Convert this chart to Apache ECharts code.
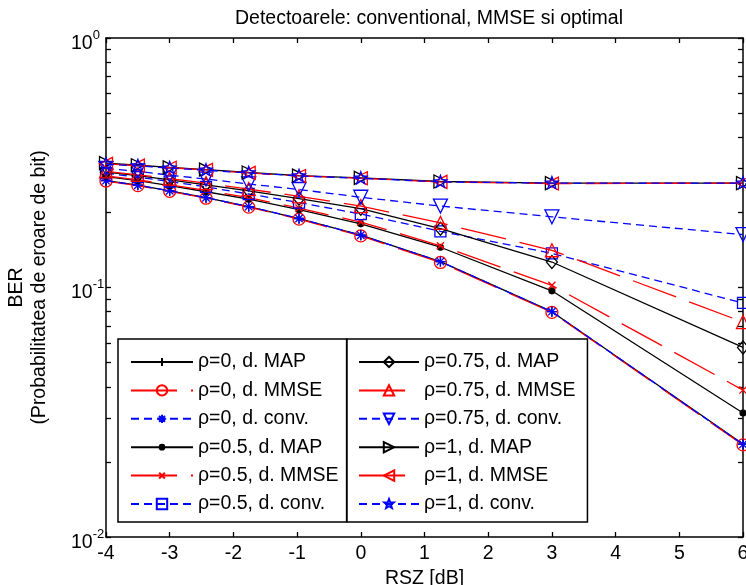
<!DOCTYPE html>
<html><head><meta charset="utf-8">
<script src="https://cdn.jsdelivr.net/npm/echarts@6/dist/echarts.min.js"></script>
<style>html,body{margin:0;padding:0;background:#fff}#c{width:746px;height:585px}</style>
</head><body><div id="c"></div>
<script>
// ---- data ----
const snrDb = [-4, -3.5, -3, -2.43, -1.76, -0.97, 0, 1.25, 3, 6];
const rho0_map   = [0.268, 0.257, 0.244, 0.229, 0.211, 0.189, 0.162, 0.127, 0.080, 0.0236];
const rho0_mmse  = [0.267, 0.256, 0.243, 0.228, 0.210, 0.188, 0.161, 0.126, 0.0795, 0.0234];
const rho0_conv  = [0.268, 0.257, 0.244, 0.229, 0.211, 0.189, 0.162, 0.127, 0.080, 0.0235];
const rho05_map  = [0.278, 0.268, 0.256, 0.242, 0.226, 0.205, 0.180, 0.145, 0.097, 0.0314];
const rho05_mmse = [0.280, 0.270, 0.258, 0.245, 0.229, 0.208, 0.183, 0.147, 0.102, 0.0388];
const rho05_conv = [0.287, 0.277, 0.266, 0.253, 0.237, 0.219, 0.197, 0.168, 0.137, 0.0867];
const rho075_map = [0.290, 0.281, 0.270, 0.258, 0.244, 0.227, 0.207, 0.172, 0.1265, 0.0575];
const rho075_mmse= [0.292, 0.283, 0.273, 0.262, 0.248, 0.232, 0.212, 0.1815, 0.141, 0.0727];
const rho075_conv= [0.300, 0.292, 0.282, 0.272, 0.260, 0.247, 0.230, 0.212, 0.192, 0.163];
const rho1_map   = [0.315, 0.309, 0.303, 0.297, 0.289, 0.281, 0.275, 0.266, 0.262, 0.262];
const rho1_mmse  = [0.313, 0.308, 0.302, 0.296, 0.288, 0.280, 0.274, 0.265, 0.261, 0.262];
const rho1_conv  = [0.312, 0.307, 0.301, 0.295, 0.288, 0.280, 0.274, 0.265, 0.262, 0.262];

const seriesNames = [
  'ρ=0, d. MAP','ρ=0, d. MMSE','ρ=0, d. conv.',
  'ρ=0.5, d. MAP','ρ=0.5, d. MMSE','ρ=0.5, d. conv.',
  'ρ=0.75, d. MAP','ρ=0.75, d. MMSE','ρ=0.75, d. conv.',
  'ρ=1, d. MAP','ρ=1, d. MMSE','ρ=1, d. conv.'
];
const xTicks = [-4, -3, -2, -1, 0, 1, 2, 3, 4, 5, 6];
const yMajorTicks = [0.01, 0.1, 1];
const yMajorExp = ['-2', '-1', '0'];
const yMinorTicks = [0.02,0.03,0.04,0.05,0.06,0.07,0.08,0.09,0.2,0.3,0.4,0.5,0.6,0.7,0.8,0.9];

// ---- styling ----
const FONT = '"Liberation Sans", Arial, sans-serif';
const FS = 19.5;
const BLACK = '#000000', RED = '#ff0000', BLUE = '#0000ff';
const solid = 'solid', redDash = [46, 14], blueDash = [8, 5];

function starPath() {
  let d = 'M-1,-1M1,1';
  for (let i = 0; i < 10; i++) {
    const r = i % 2 === 0 ? 0.95 : 0.4;
    const a = -Math.PI / 2 + i * Math.PI / 5;
    d += (i === 0 ? 'M' : 'L') + (r * Math.cos(a)).toFixed(3) + ',' + (r * Math.sin(a)).toFixed(3);
  }
  return 'path://' + d + 'Z';
}
// symbol shapes drawn inside a fixed [-1,1] box so plot and legend sizes agree
const SYM = {
  plus:  'path://M-1,-1M1,1M-0.75,0L0.75,0M0,-0.75L0,0.75',
  cross: 'path://M-1,-1M1,1M-0.55,-0.55L0.55,0.55M-0.55,0.55L0.55,-0.55',
  aster: 'path://M-1,-1M1,1M-0.8,0L0.8,0M0,-0.8L0,0.8M-0.57,-0.57L0.57,0.57M-0.57,0.57L0.57,-0.57',
  dot:   'path://M-1,-1M1,1M0.45,0A0.45,0.45,0,1,1,-0.45,0A0.45,0.45,0,1,1,0.45,0Z',
  star:  starPath()
};

const styles = [
  {d: rho0_map,   c: BLACK, t: solid,    s: SYM.plus,  z: 13},
  {d: rho0_mmse,  c: RED,   t: redDash,  s: 'circle',  z: 12},
  {d: rho0_conv,  c: BLUE,  t: blueDash, s: SYM.aster, z: 13},
  {d: rho05_map,  c: BLACK, t: solid,    s: SYM.dot,   z: 13, fill: true},
  {d: rho05_mmse, c: RED,   t: redDash,  s: SYM.cross, z: 13},
  {d: rho05_conv, c: BLUE,  t: blueDash, s: 'rect',    z: 11},
  {d: rho075_map, c: BLACK, t: solid,    s: 'diamond', z: [11, 13]},
  {d: rho075_mmse,c: RED,   t: redDash,  s: 'triangle',z: 13},
  {d: rho075_conv,c: BLUE,  t: blueDash, s: 'triangle',z: 14, rot: 180},
  {d: rho1_map,   c: BLACK, t: solid,    s: 'triangle',z: 13, rot: -90},
  {d: rho1_mmse,  c: RED,   t: redDash,  s: 'triangle',z: 13, rot: 90},
  {d: rho1_conv,  c: BLUE,  t: blueDash, s: SYM.star,  z: 14}
];

const series = styles.map((st, i) => ({
  name: seriesNames[i],
  type: 'line',
  xAxisIndex: 0, yAxisIndex: 0,
  data: snrDb.map((x, k) => [x, st.d[k]]),
  symbol: st.s,
  symbolSize: st.z,
  symbolRotate: st.rot || 0,
  showSymbol: true,
  clip: true,
  lineStyle: {color: st.c, width: 1.3, type: st.t},
  itemStyle: {color: st.fill ? st.c : 'rgba(0,0,0,0)', borderColor: st.c, borderWidth: 1.3},
  emphasis: {disabled: true},
  z: 2 + i
}));

const legendCommon = {
  orient: 'vertical',
  itemHeight: 13,
  itemGap: 8.4,
  borderColor: BLACK,
  borderWidth: 1.5,
  borderRadius: 0,
  backgroundColor: '#ffffff',
  textStyle: {fontFamily: FONT, fontSize: FS, lineHeight: 20, color: BLACK},
  selectedMode: false,
  z: 10
};

const option = {
  animation: false,
  backgroundColor: '#ffffff',
  textStyle: {fontFamily: FONT},
  title: {
    text: 'Detectoarele: conventional, MMSE si optimal',
    left: 230, top: 4,
    textStyle: {fontFamily: FONT, fontSize: FS, fontWeight: 'normal', color: BLACK}
  },
  grid: {left: 106, right: 3, top: 38, bottom: 48, containLabel: false, outerBoundsMode: 'none'},
  legend: [
    Object.assign({}, legendCommon, {
      data: seriesNames.slice(0, 6), left: 118, top: 339,
      itemWidth: 62, padding: [13, 8, 8, 12]
    }),
    Object.assign({}, legendCommon, {
      data: seriesNames.slice(6), left: 347, top: 339,
      itemWidth: 60, padding: [13, 12, 8, 11]
    })
  ],
  xAxis: [
    {
      type: 'value', position: 'bottom', min: -4, max: 6, interval: 1,
      axisLine: {show: true, onZero: false, lineStyle: {color: BLACK, width: 1.5}},
      axisTick: {show: true, inside: true, length: 5, lineStyle: {color: BLACK, width: 1.3}, customValues: xTicks},
      axisLabel: {show: true, color: BLACK, fontSize: FS, fontFamily: FONT, margin: 7, customValues: xTicks},
      splitLine: {show: false},
      name: 'RSZ [dB]', nameLocation: 'middle', nameGap: 31,
      nameTextStyle: {color: BLACK, fontSize: FS, fontFamily: FONT}
    },
    {
      type: 'value', position: 'top', min: -4, max: 6, interval: 1,
      axisLine: {show: true, onZero: false, lineStyle: {color: BLACK, width: 1.5}},
      axisTick: {show: true, inside: true, length: 5, lineStyle: {color: BLACK, width: 1.3}, customValues: xTicks},
      axisLabel: {show: false},
      splitLine: {show: false}
    }
  ],
  yAxis: [
    {
      type: 'log', logBase: 10, position: 'left', min: 0.01, max: 1,
      axisLine: {show: true, onZero: false, lineStyle: {color: BLACK, width: 1.5}},
      axisTick: {show: true, inside: true, length: 5, lineStyle: {color: BLACK, width: 1.3},
                 customValues: yMajorTicks.concat(yMinorTicks)},
      axisLabel: {
        show: true, customValues: yMajorTicks, align: 'left', margin: 35,
        padding: [6, 0, 0, 0],
        formatter: function (v) {
          let idx = 0, best = Infinity;
          yMajorTicks.forEach((t, j) => { const dd = Math.abs(t - v); if (dd < best) { best = dd; idx = j; } });
          return '{b|10}{s|' + yMajorExp[idx] + '}';
        },
        rich: {
          b: {fontSize: FS, fontFamily: FONT, color: BLACK, verticalAlign: 'bottom', lineHeight: 25},
          s: {fontSize: 13, fontFamily: FONT, color: BLACK, verticalAlign: 'top', lineHeight: 25}
        }
      },
      splitLine: {show: false},
      name: 'BER\n(Probabilitatea de eroare de bit)', nameLocation: 'middle', nameGap: 55, nameRotate: 90,
      nameTextStyle: {color: BLACK, fontSize: FS, fontFamily: FONT, lineHeight: 23, align: 'center'}
    },
    {
      type: 'log', logBase: 10, position: 'right', min: 0.01, max: 1,
      axisLine: {show: true, onZero: false, lineStyle: {color: BLACK, width: 1.5}},
      axisTick: {show: true, inside: true, length: 5, lineStyle: {color: BLACK, width: 1.3},
                 customValues: yMajorTicks.concat(yMinorTicks)},
      axisLabel: {show: false},
      splitLine: {show: false}
    }
  ],
  series: series
};

const chart = echarts.init(document.getElementById('c'), null, {renderer: 'canvas'});
chart.setOption(option);
</script>
</body></html>
